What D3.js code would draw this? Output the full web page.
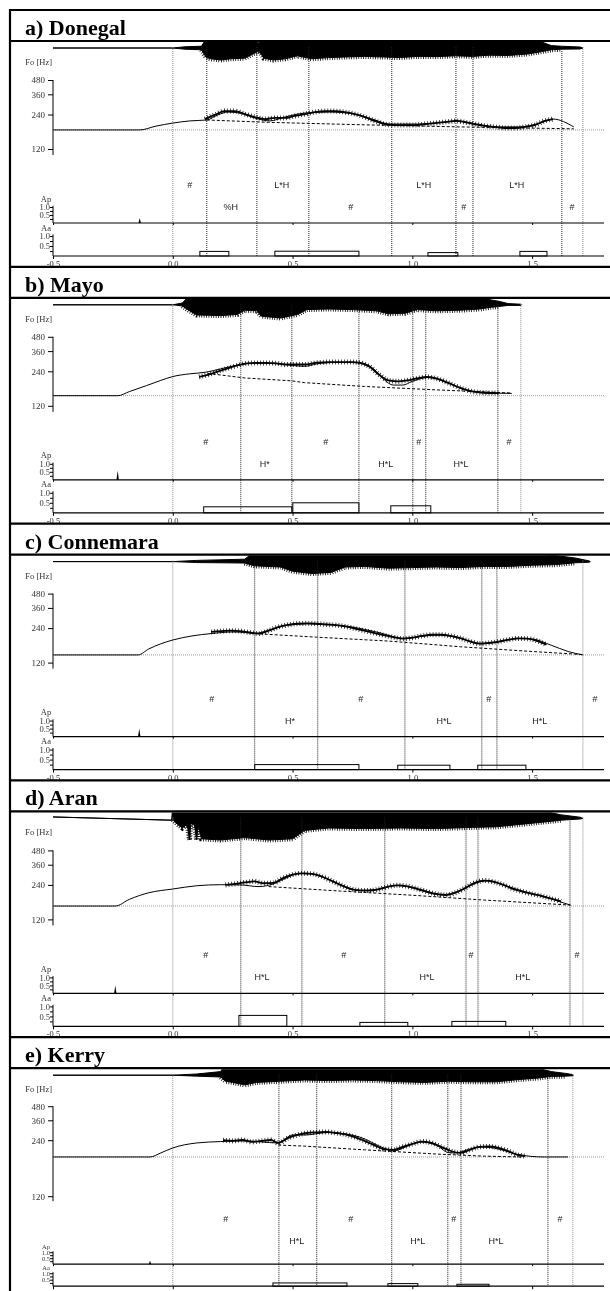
<!DOCTYPE html>
<html>
<head>
<meta charset="utf-8">
<script src="https://cdn.jsdelivr.net/npm/d3@7"></script>
<style>
body { margin: 0; }
svg { display: block; will-change: transform; }
.tick text { font-family: "Liberation Serif", serif; fill: #333; }
</style>
</head>
<body>
<div class="chart"></div>
<script>
// Fujisaki analysis of five Irish English utterances
// time in s, Fo in Hz, wave as [t, top, bottom], Aa as [onset, offset, amp]

const TIME_TICKS = [-0.5, 0, 0.5, 1.0, 1.5]
const FO_TICKS = [120, 240, 360, 480]
const AMP_TICKS = [0.25, 0.5, 0.75, 1.0]

// a) Donegal
const donegalWave = [[-0.5,0,0],[0,0,0],[0.05,0.1,-0.1],[0.12,0.15,-0.15],[0.14,0.8,-0.8],[0.16,1,-0.9],[0.2,1,-1],[0.24,1,-0.9],[0.3,1,-0.85],[0.33,0.8,-0.55],[0.36,0.4,-0.25],[0.38,0.9,-0.85],[0.42,1,-1],[0.47,1,-0.9],[0.52,1,-0.65],[0.58,1,-0.9],[0.65,1,-0.8],[0.72,1,-0.75],[0.8,1,-0.7],[0.88,1,-0.75],[0.95,1,-0.8],[1.02,1,-0.7],[1.1,1,-0.72],[1.18,1,-0.65],[1.25,1,-0.7],[1.32,1,-0.6],[1.4,1,-0.62],[1.48,0.8,-0.5],[1.54,0.5,-0.3],[1.58,0.2,-0.15],[1.62,0.15,-0.1],[1.7,0.08,-0.08],[1.712,0,0]]
const donegalFloor = 176
const donegalModel = [[-0.5,176],[-0.138,176],[-0.07,190],[0,202],[0.071,211],[0.142,215],[0.188,238],[0.23,252],[0.28,247],[0.342,224],[0.405,211],[0.468,228],[0.551,247],[0.656,252],[0.76,242],[0.843,215],[0.906,198],[1.031,198],[1.136,206],[1.19,211],[1.261,198],[1.344,187],[1.449,187],[1.532,202],[1.587,219],[1.674,187]]
const donegalF0 = [[0.134,219],[0.175,238],[0.217,257],[0.259,257],[0.301,242],[0.342,228],[0.384,219],[0.426,224],[0.468,224],[0.509,233],[0.551,242],[0.593,252],[0.635,257],[0.676,257],[0.718,252],[0.76,242],[0.802,228],[0.843,211],[0.885,198],[0.927,194],[0.969,194],[1.01,194],[1.052,198],[1.094,202],[1.136,206],[1.182,211],[1.219,206],[1.261,198],[1.303,191],[1.344,187],[1.386,183],[1.428,183],[1.47,187],[1.511,194],[1.553,211],[1.587,219]]
const donegalPhrase = [[0.142,215],[0.4,205],[0.8,195],[1.2,187],[1.674,180]]
const donegalBounds = [0, 0.142, 0.351, 0.568, 0.914, 1.182, 1.253, 1.624, 1.712]
const donegalTones = [[0.071,'#',0],[0.242,'%H',1],[0.455,'L*H',0],[0.743,'#',1],[1.048,'L*H',0],[1.215,'#',1],[1.436,'L*H',0],[1.666,'#',1]]
const donegalAp = [[-0.138,0.3]]
const donegalAa = [[0.113,0.234,0.23],[0.426,0.777,0.24],[1.065,1.19,0.17],[1.449,1.562,0.23]]

// b) Mayo
const mayoWave = [[-0.5,0,0],[0,0,0],[0.04,0.15,-0.1],[0.07,0.8,-0.5],[0.1,1,-0.85],[0.2,1,-0.9],[0.27,1,-0.8],[0.3,0.8,-0.45],[0.35,0.8,-0.5],[0.37,1,-0.95],[0.45,1,-1.1],[0.52,1,-0.8],[0.56,1,-0.4],[0.65,1,-0.35],[0.75,1,-0.4],[0.85,1,-0.5],[0.9,1,-0.75],[0.97,1,-0.7],[1.02,1,-0.4],[1.1,1,-0.5],[1.2,1,-0.45],[1.28,0.8,-0.35],[1.33,0.4,-0.2],[1.36,0.3,-0.15],[1.4,0.1,-0.05],[1.453,0.05,-0.05],[1.455,0,0]]
const mayoFloor = 147
const mayoModel = [[-0.5,147],[-0.23,147],[-0.18,160],[-0.11,180],[-0.05,200],[0,216],[0.07,228],[0.14,236],[0.2,252],[0.27,272],[0.33,282],[0.42,282],[0.5,270],[0.55,265],[0.6,278],[0.68,287],[0.75,287],[0.79,282],[0.84,250],[0.88,205],[0.92,182],[0.96,182],[1.0,196],[1.065,212],[1.12,200],[1.18,178],[1.25,160],[1.32,155],[1.415,154]]
const mayoF0 = [[0.11,215],[0.15,225],[0.19,240],[0.23,255],[0.27,270],[0.31,282],[0.35,284],[0.39,284],[0.43,282],[0.47,275],[0.55,275],[0.6,285],[0.65,289],[0.7,289],[0.75,289],[0.78,285],[0.82,265],[0.86,225],[0.9,200],[0.94,196],[0.98,200],[1.02,208],[1.06,214],[1.1,208],[1.15,190],[1.2,172],[1.25,160],[1.3,156],[1.36,155]]
const mayoPhrase = [[0.146,230],[0.3,210],[0.497,198],[0.55,191],[0.8,177],[1.107,165],[1.415,155]]
const mayoBounds = [0, 0.284, 0.497, 0.777, 1.002, 1.056, 1.357, 1.453]
const mayoTones = [[0.138,'#',0],[0.384,'H*',1],[0.639,'#',0],[0.889,'H*L',1],[1.027,'#',0],[1.203,'H*L',1],[1.403,'#',0]]
const mayoAp = [[-0.23,0.56]]
const mayoAa = [[0.129,0.497,0.3],[0.501,0.777,0.5],[0.91,1.077,0.35]]

// c) Connemara
const connemaraWave = [[-0.5,0,0],[0,0,0],[0.1,0.1,-0.08],[0.3,0.2,-0.12],[0.34,0.8,-0.35],[0.45,1,-0.45],[0.5,1,-0.8],[0.58,1,-1],[0.66,1,-0.9],[0.72,1,-0.45],[0.8,1,-0.4],[0.9,1,-0.55],[1.0,1,-0.5],[1.1,1,-0.45],[1.2,1,-0.5],[1.3,1,-0.4],[1.4,0.9,-0.4],[1.5,0.7,-0.3],[1.6,0.5,-0.25],[1.68,0.3,-0.1],[1.74,0.05,-0.05],[1.742,0,0]]
const connemaraFloor = 140
const connemaraModel = [[-0.5,140],[-0.145,140],[-0.1,158],[-0.05,175],[0,189],[0.08,205],[0.16,215],[0.25,222],[0.3,220],[0.342,215],[0.4,230],[0.48,255],[0.56,262],[0.65,258],[0.75,245],[0.85,222],[0.969,195],[1.05,205],[1.12,210],[1.2,195],[1.29,175],[1.35,180],[1.45,195],[1.5,193],[1.58,170],[1.65,150],[1.712,140]]
const connemaraF0 = [[0.16,222],[0.2,226],[0.24,228],[0.28,226],[0.32,220],[0.36,215],[0.4,228],[0.44,245],[0.48,256],[0.52,262],[0.56,264],[0.6,262],[0.64,258],[0.68,255],[0.72,248],[0.76,238],[0.8,228],[0.84,218],[0.88,208],[0.92,200],[0.96,194],[1.0,198],[1.04,205],[1.08,210],[1.12,210],[1.16,205],[1.2,196],[1.24,184],[1.28,176],[1.32,178],[1.36,183],[1.4,190],[1.44,195],[1.48,194],[1.52,186],[1.56,172]]
const connemaraPhrase = [[0.342,215],[0.6,200],[0.9,185],[1.2,165],[1.5,150],[1.712,141]]
const connemaraBounds = [0, 0.342, 0.605, 0.969, 1.29, 1.353, 1.712]
const connemaraTones = [[0.163,'#',0],[0.489,'H*',1],[0.785,'#',0],[1.132,'H*L',1],[1.319,'#',0],[1.532,'H*L',1],[1.762,'#',0]]
const connemaraAp = [[-0.14,0.5]]
const connemaraAa = [[0.342,0.777,0.25],[0.939,1.157,0.22],[1.273,1.474,0.22]]

// d) Aran
const aranWave = [[-0.5,0.12,0.12],[-0.005,-0.15,-0.15],[0,1,-0.1],[0.02,1,-0.5],[0.04,1,-0.8],[0.06,1,-0.5],[0.07,1,-1.8],[0.075,1,-0.4],[0.09,1,-0.5],[0.1,1,-1.8],[0.105,1,-0.6],[0.12,1,-1.7],[0.2,1,-1.8],[0.3,1,-1.6],[0.4,1,-1.8],[0.5,1,-1.7],[0.55,1,-1],[0.65,1,-0.8],[0.8,1,-0.85],[0.95,1,-0.8],[1.1,1,-0.85],[1.25,1,-0.75],[1.35,1,-0.7],[1.45,1,-0.5],[1.55,0.6,-0.3],[1.62,0.3,-0.15],[1.7,0.1,-0.05],[1.712,0,0]]
const aranFloor = 157
const aranModel = [[-0.5,157],[-0.24,157],[-0.18,180],[-0.1,205],[0,221],[0.1,236],[0.2,241],[0.28,240],[0.36,232],[0.42,245],[0.48,280],[0.52,300],[0.56,303],[0.62,285],[0.7,240],[0.78,215],[0.86,220],[0.93,238],[0.98,232],[1.05,210],[1.12,196],[1.2,215],[1.28,255],[1.32,262],[1.38,240],[1.46,212],[1.55,190],[1.62,170],[1.66,160]]
const aranF0 = [[0.22,240],[0.26,245],[0.3,252],[0.34,258],[0.38,248],[0.42,250],[0.46,275],[0.5,295],[0.54,303],[0.58,300],[0.62,285],[0.66,262],[0.7,240],[0.74,222],[0.78,215],[0.82,214],[0.86,220],[0.9,232],[0.94,238],[0.98,233],[1.02,222],[1.06,210],[1.1,200],[1.14,196],[1.18,205],[1.22,225],[1.26,250],[1.3,262],[1.34,255],[1.38,240],[1.42,222],[1.46,210],[1.5,200],[1.54,192],[1.58,182],[1.62,172]]
const aranPhrase = [[0.4,232],[0.7,212],[1.0,195],[1.3,177],[1.66,160]]
const aranBounds = [0, 0.284, 0.539, 0.885, 1.224, 1.274, 1.658, 1.712]
const aranTones = [[0.138,'#',0],[0.372,'H*L',1],[0.714,'#',0],[1.061,'H*L',1],[1.245,'#',0],[1.461,'H*L',1],[1.687,'#',0]]
const aranAp = [[-0.24,0.5]]
const aranAa = [[0.276,0.476,0.55],[0.781,0.981,0.2],[1.165,1.39,0.25]]

// e) Kerry
const kerryWave = [[-0.5,0,0],[0,0,0],[0.1,0.1,-0.08],[0.2,0.3,-0.15],[0.22,1,-0.5],[0.25,1,-0.6],[0.3,1,-0.8],[0.35,1,-0.6],[0.45,1,-0.5],[0.55,1,-0.4],[0.65,1,-0.45],[0.75,1,-0.4],[0.85,1,-0.45],[0.95,1,-0.55],[1.05,1,-0.6],[1.15,1,-0.5],[1.25,1,-0.55],[1.35,1,-0.55],[1.45,0.9,-0.35],[1.52,0.6,-0.25],[1.58,0.3,-0.1],[1.64,0.15,-0.08],[1.67,0.05,-0.05],[1.672,0,0]]
const kerryFloor = 195
const kerryModel = [[-0.5,195],[-0.095,195],[-0.05,205],[0,218],[0.1,232],[0.2,236],[0.3,238],[0.44,232],[0.5,267],[0.55,267],[0.65,281],[0.78,256],[0.88,218],[0.92,210],[0.98,223],[1.03,235],[1.1,226],[1.15,206],[1.18,205],[1.24,215],[1.29,221],[1.36,215],[1.44,201],[1.55,195],[1.65,195]]
const kerryF0 = [[0.21,240],[0.25,238],[0.29,241],[0.33,235],[0.37,238],[0.41,241],[0.44,232],[0.48,250],[0.52,267],[0.56,278],[0.6,282],[0.64,284],[0.68,278],[0.72,270],[0.76,256],[0.8,238],[0.84,226],[0.88,215],[0.92,213],[0.96,221],[1.0,229],[1.04,236],[1.08,232],[1.12,221],[1.16,210],[1.2,205],[1.24,213],[1.28,221],[1.32,222],[1.36,218],[1.4,210],[1.44,200],[1.47,197]]
const kerryPhrase = [[0.44,226],[0.551,223],[0.8,213],[1.107,202],[1.3,197],[1.46,195]]
const kerryBounds = [0, 0.443, 0.601, 0.914, 1.148, 1.203, 1.566, 1.67]
const kerryTones = [[0.221,'#',0],[0.518,'H*L',1],[0.743,'#',0],[1.023,'H*L',1],[1.173,'#',0],[1.349,'H*L',1],[1.616,'#',0]]
const kerryAp = [[-0.095,0.3]]
const kerryAa = [[0.418,0.727,0.25],[0.898,1.023,0.2],[1.186,1.32,0.15]]

const PANELS = [
    { title: 'a) Donegal', wave: donegalWave, floor: donegalFloor, model: donegalModel, f0: donegalF0, phrase: donegalPhrase, bounds: donegalBounds, tones: donegalTones, ap: donegalAp, aa: donegalAa },
    { title: 'b) Mayo', wave: mayoWave, floor: mayoFloor, model: mayoModel, f0: mayoF0, phrase: mayoPhrase, bounds: mayoBounds, tones: mayoTones, ap: mayoAp, aa: mayoAa },
    { title: 'c) Connemara', wave: connemaraWave, floor: connemaraFloor, model: connemaraModel, f0: connemaraF0, phrase: connemaraPhrase, bounds: connemaraBounds, tones: connemaraTones, ap: connemaraAp, aa: connemaraAa },
    { title: 'd) Aran', wave: aranWave, floor: aranFloor, model: aranModel, f0: aranF0, phrase: aranPhrase, bounds: aranBounds, tones: aranTones, ap: aranAp, aa: aranAa },
    { title: 'e) Kerry', wave: kerryWave, floor: kerryFloor, model: kerryModel, f0: kerryF0, phrase: kerryPhrase, bounds: kerryBounds, tones: kerryTones, ap: kerryAp, aa: kerryAa },
]

const W = 610, H = 1291
const PANEL_H = 256.8
const LAYOUT = { foDomain: [120, 480], foRange: [139, 70], foAxis: 145, row: [175, 197], ap: [213, 197], aa: [246, 226], ampFont: 8.5, nameGap: 5.5 }
// the last panel is drawn stretched below 240 Hz and squeezed lower down in the source
const LAYOUT_E = { foDomain: [120, 240, 480], foRange: [159, 103, 69], foAxis: 164, row: [182, 204], ap: [227, 215], aa: [249, 236], ampFont: 6.5, nameGap: 3 }

const svg = d3.select('.chart').append('svg')
    .attr('width', W)
    .attr('height', H)

const x = d3.scaleLinear().domain([-0.5, 1.8]).range([53, 604])
const fmt1 = d => d.toFixed(1)

PANELS.forEach((p, i) => drawPanel(p, i))

// frame on top so the separators cut the time labels like in the source
PANELS.forEach((p, i) => {
    const T = 10 + i * PANEL_H
    svg.append('line').attr('x1', 9).attr('x2', W).attr('y1', T).attr('y2', T)
        .attr('stroke', '#000').attr('stroke-width', 2.2)
    svg.append('line').attr('x1', 9).attr('x2', W).attr('y1', T + 31).attr('y2', T + 31)
        .attr('stroke', '#000').attr('stroke-width', 2.2)
    svg.append('text')
        .attr('x', 25).attr('y', T + 25)
        .attr('font-family', '"Liberation Serif", serif')
        .attr('font-weight', 'bold')
        .attr('font-size', '22px')
        .text(p.title)
})
svg.append('line').attr('x1', 10).attr('x2', 10).attr('y1', 9).attr('y2', H)
    .attr('stroke', '#000').attr('stroke-width', 2.2)

function ampAxis(g, scale, name, L) {
    g.append('text').attr('x', 46).attr('y', scale(1) - L.nameGap)
        .attr('text-anchor', 'middle')
        .attr('font-family', '"Liberation Serif", serif')
        .attr('font-size', L.ampFont + 'px').attr('fill', '#333').text(name)
    const ax = g.append('g').attr('transform', 'translate(53,0)')
        .call(d3.axisLeft(scale).tickValues(AMP_TICKS).tickSize(3)
            .tickFormat(d => (d === 0.5 || d === 1) ? fmt1(d) : ''))
    ax.select('.domain').remove()
    ax.selectAll('text').attr('font-size', L.ampFont + 'px').attr('x', -3)
    g.append('line').attr('x1', 53).attr('x2', 53).attr('y1', scale(1.08)).attr('y2', scale(0)).attr('stroke', '#000')
    g.append('line').attr('x1', 53).attr('x2', 604).attr('y1', scale(0)).attr('y2', scale(0))
        .attr('stroke', '#000').attr('stroke-width', 1.2)
}

function drawPanel(p, i) {
    const T = 10 + i * PANEL_H
    const L = i === 4 ? LAYOUT_E : LAYOUT
    const g = svg.append('g')

    const y = d3.scaleLog().domain(L.foDomain).range(L.foRange.map(v => T + v))
    const ap = d3.scaleLinear().domain([0, 1]).range([T + L.ap[0], T + L.ap[1]])
    const aa = d3.scaleLinear().domain([0, 1]).range([T + L.aa[0], T + L.aa[1]])
    const wv = d3.scaleLinear().domain([-1, 1]).range([T + 38 + 12, T + 38 - 12])

    // waveform, clipped under the title rule
    const clipId = 'clip' + i
    g.append('clipPath').attr('id', clipId).append('rect')
        .attr('x', 40).attr('y', T + 32).attr('width', W).attr('height', 40)
    const wg = g.append('g').attr('clip-path', `url(#${clipId})`)
    wg.append('path')
        .datum(p.wave)
        .attr('d', d3.area().x(d => x(d[0])).y0(d => wv(d[2])).y1(d => wv(d[1])))
        .attr('fill', '#000')
        .attr('stroke', '#000')
        .attr('stroke-width', 1)
    // ragged lower edge
    wg.append('path')
        .datum(p.wave.filter(d => d[1] - d[2] > 0.2))
        .attr('d', d3.line().x(d => x(d[0])).y(d => wv(d[2])))
        .attr('fill', 'none')
        .attr('stroke', '#000')
        .attr('stroke-width', 5)
        .attr('stroke-dasharray', '0.8,1.6')

    // segment boundaries
    g.selectAll('.bound').data(p.bounds).enter().append('line')
        .attr('x1', d => x(d)).attr('x2', d => x(d))
        .attr('y1', T + 37).attr('y2', T + L.aa[0])
        .attr('stroke', (d, k) => (k === 0 || k === p.bounds.length - 1) ? '#888' : '#222')
        .attr('stroke-width', 1)
        .attr('stroke-dasharray', '1,1')

    // Fo axis
    const fo = g.append('g').attr('transform', 'translate(53,0)')
        .call(d3.axisLeft(y).tickValues(FO_TICKS).tickSize(5).tickFormat(d3.format('d')))
    fo.select('.domain').remove()
    fo.selectAll('text').attr('font-size', '9px').attr('x', -8)
    g.append('line').attr('x1', 53).attr('x2', 53).attr('y1', T + L.foRange[L.foRange.length - 1]).attr('y2', T + L.foAxis)
        .attr('stroke', '#000')
    g.append('text').attr('x', 52).attr('y', T + 55)
        .attr('text-anchor', 'end')
        .attr('font-family', '"Liberation Serif", serif')
        .attr('font-size', '8.5px').attr('fill', '#333')
        .text('Fo [Hz]')

    // floor line
    g.append('line').attr('x1', 53).attr('x2', 604)
        .attr('y1', y(p.floor)).attr('y2', y(p.floor))
        .attr('stroke', '#999').attr('stroke-dasharray', '1,1')

    const line = d3.line().x(d => x(d[0])).y(d => y(d[1]))
    g.append('path').datum(p.phrase).attr('d', line)
        .attr('fill', 'none').attr('stroke', '#000').attr('stroke-dasharray', '3,2')
    g.append('path').datum(p.model).attr('d', line.curve(d3.curveMonotoneX))
        .attr('fill', 'none').attr('stroke', '#000').attr('stroke-width', 1)
    // measured Fo: thick trace with crossing hairs
    const mline = d3.line().x(d => x(d[0])).y(d => y(d[1])).curve(d3.curveMonotoneX)
    g.append('path').datum(p.f0).attr('d', mline)
        .attr('fill', 'none').attr('stroke', '#000').attr('stroke-width', 1.8)
    g.append('path').datum(p.f0).attr('d', mline)
        .attr('fill', 'none').attr('stroke', '#000').attr('stroke-width', 5)
        .attr('stroke-dasharray', '0.7,2.3')

    // tone labels
    g.selectAll('.tone').data(p.tones).enter().append('text')
        .attr('x', d => x(d[0]))
        .attr('y', d => T + L.row[d[2]] + 3)
        .attr('text-anchor', 'middle')
        .attr('font-family', '"Liberation Sans", Arial, sans-serif')
        .attr('font-size', '9px')
        .attr('fill', '#222')
        .text(d => d[1])

    // Ap: phrase commands
    ampAxis(g, ap, 'Ap', L)
    const apTicks = g.append('g').attr('transform', `translate(0,${ap(0)})`)
        .call(d3.axisBottom(x).tickValues(TIME_TICKS).tickSize(2).tickFormat(''))
    apTicks.select('.domain').remove()
    g.selectAll('.apcmd').data(p.ap).enter().append('path')
        .attr('d', d => `M${x(d[0]) - 1.2},${ap(0)}L${x(d[0])},${ap(d[1])}L${x(d[0]) + 1.2},${ap(0)}Z`)
        .attr('fill', '#000')

    // Aa: accent commands
    ampAxis(g, aa, 'Aa', L)
    g.selectAll('.aacmd').data(p.aa).enter().append('rect')
        .attr('x', d => x(d[0]))
        .attr('width', d => x(d[1]) - x(d[0]))
        .attr('y', d => aa(d[2]))
        .attr('height', d => aa(0) - aa(d[2]))
        .attr('fill', 'none').attr('stroke', '#000').attr('stroke-width', 1)
    const tAx = g.append('g').attr('transform', `translate(0,${aa(0)})`)
        .call(d3.axisBottom(x).tickValues(TIME_TICKS).tickSize(3).tickFormat(fmt1))
    tAx.select('.domain').remove()
    tAx.selectAll('text').attr('font-size', '8.5px').attr('y', 5)
}
</script>
</body>
</html>
